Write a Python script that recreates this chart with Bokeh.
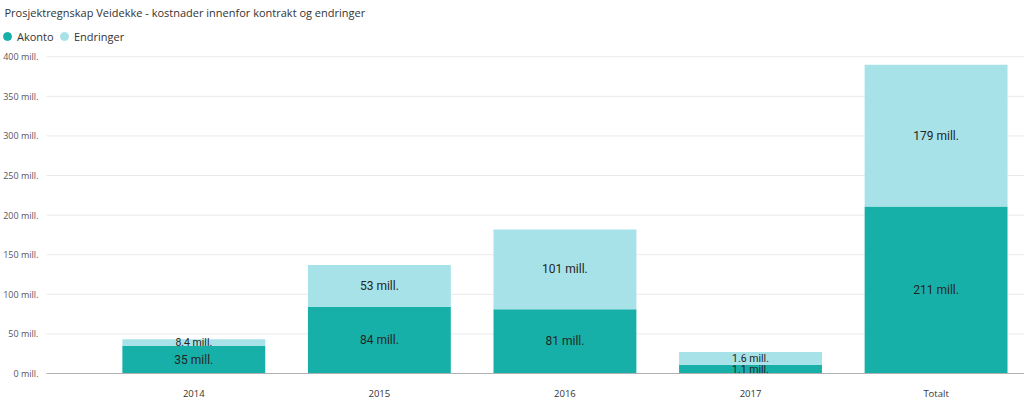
from bokeh.plotting import figure
from bokeh.models import ColumnDataSource, Range1d, FixedTicker, Legend, LegendItem, Label
from bokeh.core.properties import value
from bokeh.embed import file_html
from bokeh.resources import INLINE

title = "Prosjektregnskap Veidekke - kostnader innenfor kontrakt og endringer"
categories = ["2014", "2015", "2016", "2017", "Totalt"]
akonto = [35, 84, 81, 11, 211]
endringer = [8.4, 53, 101, 16, 179]
akonto_labels = ["35 mill.", "84 mill.", "81 mill.", "1.1 mill.", "211 mill."]
endringer_labels = ["8.4 mill.", "53 mill.", "101 mill.", "1.6 mill.", "179 mill."]
y_ticks = [0, 50, 100, 150, 200, 250, 300, 350, 400]
y_tick_labels = ["0 mill.", "50 mill.", "100 mill.", "150 mill.", "200 mill.",
                 "250 mill.", "300 mill.", "350 mill.", "400 mill."]

C_AK = "#17B0A9"
C_EN = "#A7E2E8"
FONT = "Open Sans"

X0, X1 = -1.0363, 4.4765      # full frame width
XP = -0.7941                   # where the plot area (gridlines) starts
xs = list(range(len(categories)))
src = ColumnDataSource(dict(x=xs, akonto=akonto, endringer=endringer))

p = figure(width=1024, height=402, output_backend="svg", toolbar_location=None,
           x_range=Range1d(X0, X1), y_range=Range1d(0, 471.03),
           min_border_left=0, min_border_right=0, min_border_top=0, min_border_bottom=24)
p.title.text = ""

# gridlines (from tick list)
p.segment(x0=XP, x1=X1, y0=y_ticks[1:], y1=y_ticks[1:], line_color="#EAEAEA", line_width=1)

rs = p.vbar_stack(["akonto", "endringer"], x="x", width=0.77, source=src,
                  color=[C_AK, C_EN], line_color=None)

# labels
lx, ly, lt, ls = [], [], [], []
for i in xs:
    a, e = akonto[i], endringer[i]
    lx += [i, i]
    ly += [a / 2, a + e / 2]
    lt += [akonto_labels[i], endringer_labels[i]]
    ls += ["12px" if a >= 20 else "10.5px", "12px" if e >= 20 else "10.5px"]
lsrc = ColumnDataSource(dict(x=lx, y=ly, t=lt, s=ls))
p.text(x="x", y="y", text="t", source=lsrc, text_align="center", text_baseline="middle",
       text_font=value("Roboto"), text_font_size="s", text_color="#252423")

# title
p.add_layout(Label(x=3, y=361, x_units="screen", y_units="screen", text=title,
                   text_font=FONT, text_font_size="11px", text_color="#333333",
                   text_baseline="middle", text_align="left"))

# legend (marker renderers hidden in the plot, shown in legend)
d1 = p.scatter(x="x", y="akonto", source=src, marker="circle", color=C_AK, visible=False)
d2 = p.scatter(x="x", y="endringer", source=src, marker="circle", color=C_EN, visible=False)
for r, lab, lxp in [(d1, "Akonto", -4), (d2, "Endringer", 53)]:
    leg = Legend(items=[LegendItem(label=lab, renderers=[r])],
                 orientation="horizontal", location=(lxp, 327),
                 glyph_width=20, glyph_height=20, label_standoff=-4, spacing=0,
                 padding=0, margin=0, background_fill_alpha=0, border_line_color=None,
                 inactive_fill_alpha=0,
                 label_text_font=FONT, label_text_font_size="11px", label_text_color="#333333",
                 label_height=20, label_width=10)
    p.add_layout(leg, "center")

# axes
p.yaxis.ticker = FixedTicker(ticks=y_ticks)
p.yaxis.major_label_overrides = {t: l for t, l in zip(y_ticks, y_tick_labels)}
p.yaxis.axis_line_color = None
p.yaxis.major_tick_line_color = None
p.yaxis.minor_tick_line_color = None
p.yaxis.major_label_text_font = FONT
p.yaxis.major_label_text_font_size = "9px"
p.yaxis.major_label_text_color = "#5A5560"
p.yaxis.major_label_standoff = -43

p.xaxis.ticker = FixedTicker(ticks=xs)
p.xaxis.major_label_overrides = {i: c for i, c in zip(xs, categories)}
p.xaxis.bounds = (XP, X1)
p.xaxis.axis_line_color = "#B0B0B0"
p.xaxis.major_tick_line_color = None
p.xaxis.minor_tick_line_color = None
p.xaxis.major_label_text_font = FONT
p.xaxis.major_label_text_font_size = "9.5px"
p.xaxis.major_label_text_color = "#333333"
p.xaxis.major_label_standoff = 7

p.grid.grid_line_color = None
p.outline_line_color = None
p.background_fill_color = "white"
p.border_fill_color = "white"

open("out.html", "w").write(file_html(p, INLINE))
